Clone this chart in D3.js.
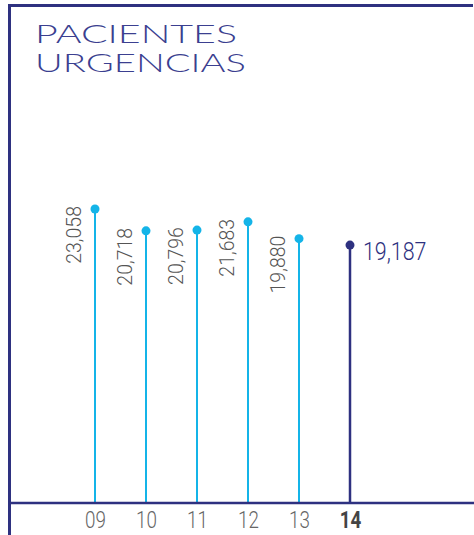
<!DOCTYPE html>
<html>
<head>
<meta charset="utf-8">
<script src="https://cdn.jsdelivr.net/npm/d3@7"></script>
<style>
  html, body { margin: 0; padding: 0; background: #fff; }
  svg { display: block; }
</style>
</head>
<body>
<div id="chart-container"></div>
<script>
// data
let years = ["09", "10", "11", "12", "13", "14"];
let patients = [23058, 20718, 20796, 21683, 19880, 19187];
let valueLabels = ["23,058", "20,718", "20,796", "21,683", "19,880", "19,187"];
let titleLines = ["PACIENTES", "URGENCIAS"];

let W = 474, H = 535;
let navy = "#2e3180", cyan = "#14b4e8";
let baseY = 503;

let svg = d3.select("#chart-container")
    .append("svg")
    .attr("width", W)
    .attr("height", H);

// frame: top and left rules
svg.append("line")
    .attr("x1", 8).attr("x2", 473)
    .attr("y1", 5.5).attr("y2", 5.5)
    .attr("stroke", navy).attr("stroke-width", 3);
svg.append("line")
    .attr("x1", 9.5).attr("x2", 9.5)
    .attr("y1", 4).attr("y2", H)
    .attr("stroke", navy).attr("stroke-width", 3);

// title
svg.selectAll("text.title")
    .data(titleLines)
    .enter()
    .append("text")
    .attr("class", "title")
    .attr("x", 35)
    .attr("y", (d, i) => 43 + i * 29)
    .attr("textLength", (d, i) => i === 0 ? 202 : 211)
    .attr("lengthAdjust", "spacingAndGlyphs")
    .style("font-family", "Lato, sans-serif")
    .style("font-weight", 300)
    .style("font-size", "25px")
    .style("fill", "#3b3f90")
    .text(d => d);

// scales
let x = d3.scalePoint()
    .domain(years)
    .range([95, 350]);

// value axis is truncated: baseline does not sit at zero
let y = d3.scaleLinear()
    .domain([-8450, 23058])
    .range([baseY, 209]);

let last = years.length - 1;
let rows = years.map((d, i) => ({year: d, value: patients[i], label: valueLabels[i], isLast: i === last}));

// stems
svg.selectAll("line.stem")
    .data(rows)
    .enter()
    .append("line")
    .attr("class", "stem")
    .attr("x1", d => x(d.year)).attr("x2", d => x(d.year))
    .attr("y1", baseY).attr("y2", d => y(d.value))
    .attr("stroke", d => d.isLast ? navy : cyan)
    .attr("stroke-width", d => d.isLast ? 2.5 : 2);

// dots
svg.selectAll("circle.dot")
    .data(rows)
    .enter()
    .append("circle")
    .attr("class", "dot")
    .attr("cx", d => x(d.year))
    .attr("cy", d => y(d.value))
    .attr("r", 4.5)
    .attr("fill", d => d.isLast ? navy : cyan);

// rotated value labels for earlier years
svg.selectAll("text.vlabel")
    .data(rows.filter(d => !d.isLast))
    .enter()
    .append("text")
    .attr("class", "vlabel")
    .attr("transform", d => "translate(" + (x(d.year) - 14) + "," + (y(d.value) - 3) + ") rotate(-90)")
    .style("text-anchor", "end")
    .style("font-family", "Roboto, sans-serif")
    .style("font-weight", 300)
    .style("font-size", "19.5px")
    .style("fill", "#555")
    .text(d => d.label);

// label for current year, to the right
let cur = rows[last];
svg.append("g")
    .attr("transform", "translate(" + (x(cur.year) + 13) + "," + (y(cur.value) + 15) + ") scale(0.84,1)")
    .append("text")
    .style("font-family", "Roboto, sans-serif")
    .style("font-weight", 300)
    .style("font-size", "25.5px")
    .style("fill", navy)
    .text(cur.label);

// baseline
svg.append("line")
    .attr("x1", 9).attr("x2", W)
    .attr("y1", baseY).attr("y2", baseY)
    .attr("stroke", navy).attr("stroke-width", 2.5);

// category axis
let xAxis = d3.axisBottom(x).tickSize(0).tickPadding(0);
let gx = svg.append("g")
    .attr("class", "x axis")
    .attr("transform", "translate(0," + baseY + ")")
    .call(xAxis);
gx.select(".domain").remove();
gx.selectAll(".tick text")
    .attr("y", 25.5)
    .attr("dy", 0)
    .attr("transform", "scale(0.8,1)")
    .attr("x", 0)
    .style("font-family", "Roboto, sans-serif")
    .style("font-weight", d => d === years[last] ? 700 : 300)
    .style("font-size", "23.5px")
    .style("fill", d => d === years[last] ? "#444" : "#666");
</script>
</body>
</html>
